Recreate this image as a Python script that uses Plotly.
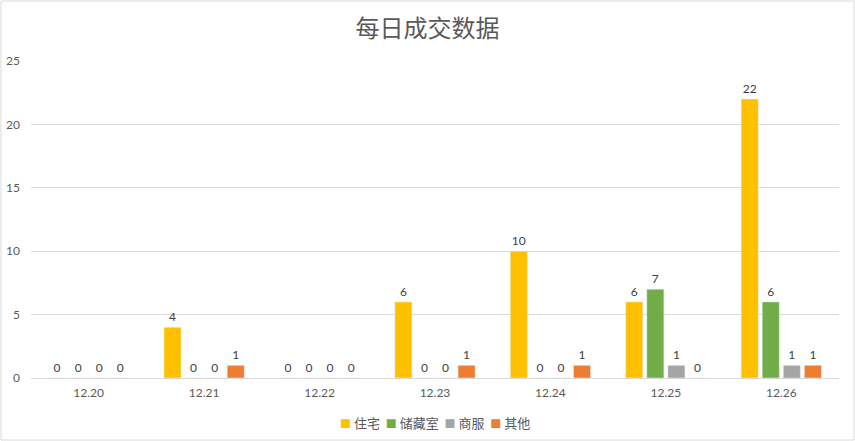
import plotly.graph_objects as go

dates = ['12.20', '12.21', '12.22', '12.23', '12.24', '12.25', '12.26']
zhuzhai = [0, 4, 0, 6, 10, 6, 22]
chucangshi = [0, 0, 0, 0, 0, 7, 6]
shangfu = [0, 0, 0, 0, 0, 1, 1]
qita = [0, 1, 0, 1, 1, 0, 1]

names = ['住宅', '储藏室', '商服', '其他']
colors = ['#FFC000', '#70AD47', '#A5A5A5', '#ED7D31']
series = [zhuzhai, chucangshi, shangfu, qita]

W, H = 855, 441
ml, mr, mt, mb = 31, 16, 61, 63

fig = go.Figure()
for name, vals, c in zip(names, series, colors):
    fig.add_trace(go.Bar(
        x=dates, y=vals, name=name, marker_color=c,
        text=vals, textposition='outside', cliponaxis=False,
        textfont=dict(family='Lato, Noto Sans', size=12, color='#404040'),
    ))

# compact legend like the spreadsheet one
legend_text = '&nbsp;&nbsp;'.join(
    '<span style="color:%s;font-size:11px">■</span> %s' % (c, n)
    for n, c in zip(names, colors)
)

pw, ph = W - ml - mr, H - mt - mb
fig.update_layout(
    width=W, height=H,
    margin=dict(l=ml, r=mr, t=mt, b=mb),
    paper_bgcolor='white', plot_bgcolor='white',
    barmode='group', bargap=0.27, bargroupgap=0.19,
    showlegend=False,
    title=dict(text='每日成交数据', x=0.5, xanchor='center', y=0.935, yanchor='middle',
               font=dict(family='Noto Sans CJK SC', size=24, color='#595959')),
    font=dict(family='Lato, Noto Sans CJK SC', color='#595959', size=12),
    xaxis=dict(showline=True, linecolor='#D9D9D9', linewidth=1, ticks='',
               automargin=False, ticklabelstandoff=4,
               tickfont=dict(size=12, color='#595959')),
    yaxis=dict(range=[0, 25], dtick=5, showgrid=True, gridcolor='#D9D9D9',
               zeroline=False, showline=False, ticks='', ticklabelstandoff=10,
               automargin=False, tickfont=dict(size=12, color='#595959')),
    annotations=[dict(text=legend_text, xref='paper', yref='paper',
                      x=0.5, xanchor='center', y=-(422 - 378) / ph, yanchor='middle',
                      showarrow=False,
                      font=dict(family='Noto Sans CJK SC', size=13, color='#595959'))],
    shapes=[dict(type='rect', xref='paper', yref='paper',
                 x0=-(ml - 1) / pw, x1=1 + (mr - 1) / pw,
                 y0=-(mb - 1) / ph, y1=1 + (mt - 1) / ph,
                 line=dict(color='#D9D9D9', width=1))],
)

# page has a default 8px body margin; drop it so the chart fills the window
fig.write_html("out.html", config={'displayModeBar': False},
               post_script="document.body.style.margin='0';")
